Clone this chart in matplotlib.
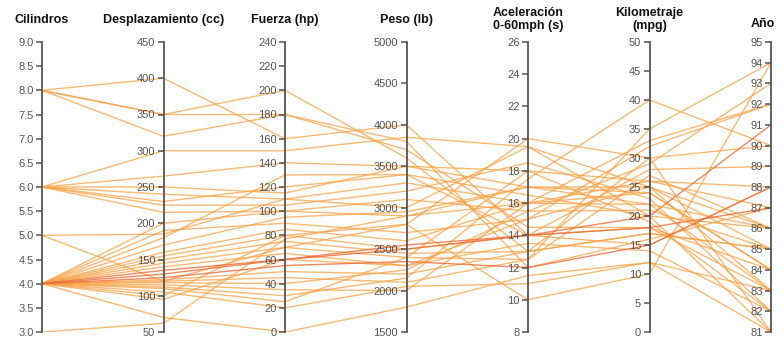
import matplotlib.pyplot as plt

plt.rcParams['font.family'] = ['Liberation Sans', 'DejaVu Sans']

# datos por coche (una columna por eje)
cilindros = [8, 8, 8, 8, 6, 6, 6, 6, 6, 6, 6, 5, 5, 3,
             4, 4, 4, 4, 4, 4, 4, 4, 4, 4, 4, 4, 4, 4, 4, 4, 4, 4, 4, 4, 4, 4]
desplazamiento = [400, 350, 350, 320, 300, 265, 250, 240, 225, 215, 230, 185, 120, 62,
                  200, 190, 180, 170, 160, 155, 150, 145, 140, 135, 130, 125, 122, 120,
                  118, 115, 112, 110, 105, 100, 95, 70]
fuerza = [160, 180, 200, 180, 150, 140, 115, 110, 105, 100, 120, 110, 70, 77,
          100, 90, 130, 95, 85, 80, 75, 70, 65, 60, 60, 55, 50, 45,
          40, 35, 30, 25, 20, 80, 60, 0]
peso = [4000, 3800, 3600, 3700, 3850, 3500, 3500, 3300, 3200, 3100, 3400, 3000, 2800, 2900,
        2900, 2700, 3400, 2950, 2600, 2500, 2450, 2400, 2300, 2550, 2500, 2350, 2200, 2100,
        2250, 2000, 2150, 2400, 2050, 2800, 2300, 1800]
aceleracion = [14, 12, 13, 14.5, 19.5, 18, 17, 16, 18.5, 15.5, 16.5, 19.5, 20, 17,
               16, 15, 14, 17, 16, 14, 13, 12.5, 15, 14, 14, 12, 13, 12.5,
               15.5, 16, 17.5, 18, 11, 10, 13.5, 11.5]
kilometraje = [15, 16, 17, 18, 20, 19, 22, 24, 23, 21, 20, 25, 30, 25,
               22, 25, 18, 24, 26, 28, 30, 27, 32, 20, 18, 15, 17, 35,
               29, 33, 40, 26, 12, 10, 14, 12]
anio = [88, 87, 85, 84, 81, 82, 83, 84, 82, 85, 86, 83, 81, 86,
        86, 85, 83, 84, 88, 89, 90, 86, 92, 91, 87, 88, 85, 94,
        93, 92, 90, 87, 81, 94, 82, 83]

titulos = ['Cilindros', 'Desplazamiento (cc)', 'Fuerza (hp)', 'Peso (lb)',
           'Aceleración\n0-60mph (s)', 'Kilometraje\n(mpg)', 'Año']
rangos = [(3, 9), (50, 450), (0, 240), (1500, 5000), (8, 26), (0, 50), (81, 95)]
pasos = [0.5, 50, 20, 500, 2, 5, 1]
filas_rojas = [23, 24, 25]

columnas = [cilindros, desplazamiento, fuerza, peso, aceleracion, kilometraje, anio]
n = len(columnas)

fig = plt.figure(figsize=(7.83, 3.39), dpi=100)
host = fig.add_axes([42 / 783, 7 / 339, 729 / 783, 290 / 339])
host.set_xlim(0, n - 1)
host.set_ylim(0, 1)
host.axis('off')

for j in range(len(cilindros)):
    ys = [(col[j] - lo) / (hi - lo) for col, (lo, hi) in zip(columnas, rangos)]
    if j in filas_rojas:
        host.plot(range(n), ys, color='#ee6a35', lw=1.0, alpha=0.8, zorder=3)
    else:
        host.plot(range(n), ys, color='#f7a244', lw=1.0, alpha=0.75, zorder=2)

for i in range(n):
    ax = host.twinx()
    lo, hi = rangos[i]
    ax.set_ylim(lo, hi)
    ticks = [lo + k * pasos[i] for k in range(int(round((hi - lo) / pasos[i])) + 1)]
    ax.set_yticks(ticks)
    if i == 0:
        ax.set_yticklabels([f'{t:.1f}' for t in ticks])
    else:
        ax.set_yticklabels([f'{t:g}' for t in ticks])
    ax.yaxis.tick_left()
    for s in ['top', 'bottom', 'right']:
        ax.spines[s].set_visible(False)
    ax.spines['left'].set_position(('axes', i / (n - 1)))
    ax.spines['left'].set_color('#555555')
    ax.spines['left'].set_linewidth(1.3)
    ax.tick_params(axis='y', length=4.5, width=1.1, color='#555555',
                   labelsize=8, labelcolor='#555555', pad=1.5)
    ax.set_xticks([])
    dx = -6 if i == n - 1 else 0
    dy = 13 if i == n - 1 else 16
    host.annotate(titulos[i], xy=(i, 1), xycoords=host.get_xaxis_transform(),
                  xytext=(dx, dy), textcoords='offset points', ha='center',
                  va='center', fontsize=9, fontweight='bold', color='#111111',
                  linespacing=1.1)

fig.savefig('out.png', dpi=100)
